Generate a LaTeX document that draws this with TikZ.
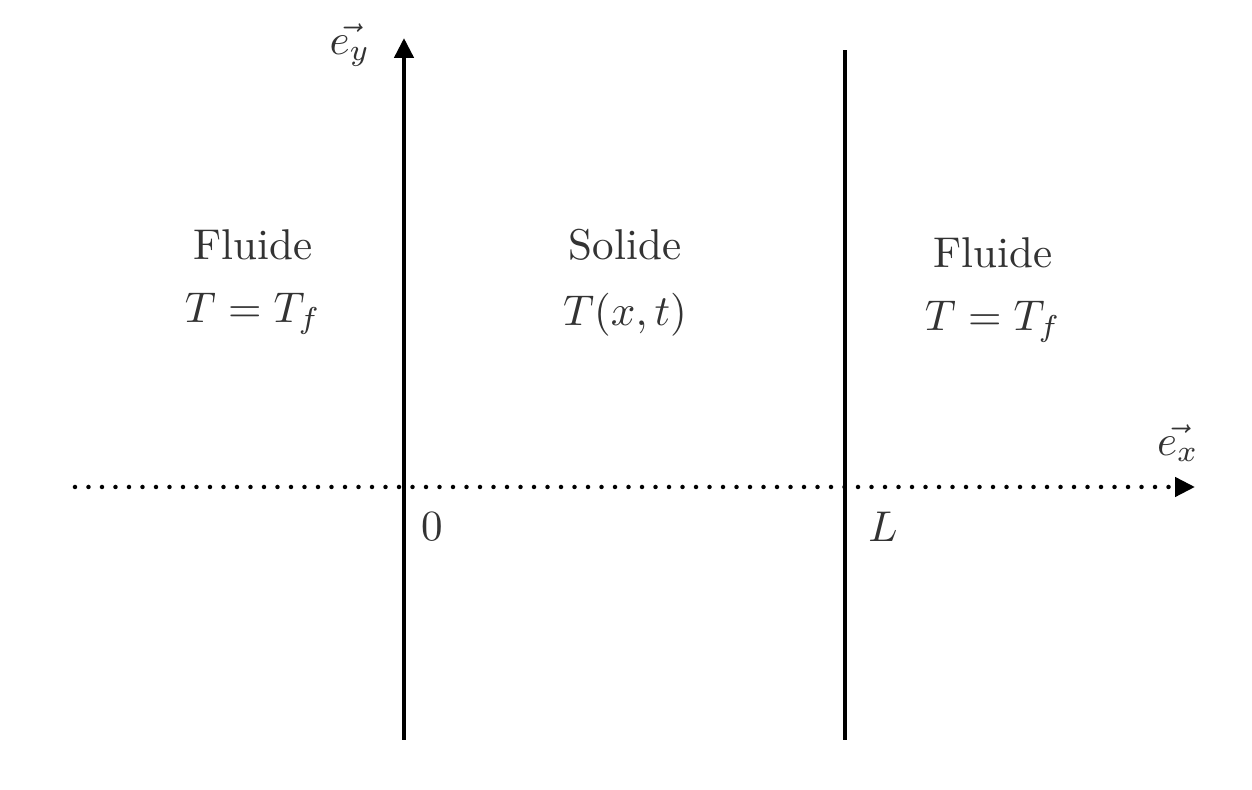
\documentclass[tikz,border=0pt]{standalone}
\usepackage{amsmath,amssymb}
\usepackage{xcolor}
\usetikzlibrary{arrows.meta,positioning,calc}
\definecolor{txtgray}{HTML}{333333}

\begin{document}
\begin{tikzpicture}[auto,
    label/.style={text=txtgray, scale=2.45, inner sep=0pt},
    axisarrow/.style={-{Triangle[length=0.4cm,width=0.38cm]}}]
    \useasboundingbox (-8.08,-6.06) rectangle (16.96,9.74);

    % Axes
    \coordinate (O) at (0,0);
    \coordinate (ybot) at (0,-5.06);
    \coordinate (ytop) at (0,8.98);
    \coordinate (xleft) at (-6.58,0);
    \coordinate (xright) at (15.82,0);
    \draw[axisarrow, line width=0.09cm, line cap=round, dash pattern=on 0pt off 0.27cm] (xleft) -- (xright);
    \draw[axisarrow, line width=0.09cm] (ybot) -- (ytop);

    % Interface at x = L
    \coordinate (Lbot) at (8.82,-5.06);
    \coordinate (Ltop) at (8.82,8.74);
    \draw[line width=0.066cm] (Lbot) -- (Ltop);

    % Labels
    \node[label] (ey) at (-1.08,8.84) {$\vec{e_y}$};
    \node[label] (ex) at (15.48,0.88) {$\vec{e_x}$};
    \node[label] (zero) at (0.56,-0.8) {$0$};
    \node[label] (Lab) at (9.58,-0.8) {$L$};

    % Domains
    \node[label] (fluideG) at (-3.02,4.84) {Fluide};
    \node[label, below=0.62cm of fluideG] (TfG) {$T=T_f$};
    \node[label] (solide) at (4.42,4.84) {Solide};
    \node[label, below=0.62cm of solide] (Txt) {$T(x,t)$};
    \node[label] (fluideD) at (11.78,4.68) {Fluide};
    \node[label, below=0.62cm of fluideD] (TfD) {$T=T_f$};
\end{tikzpicture}
\end{document}
